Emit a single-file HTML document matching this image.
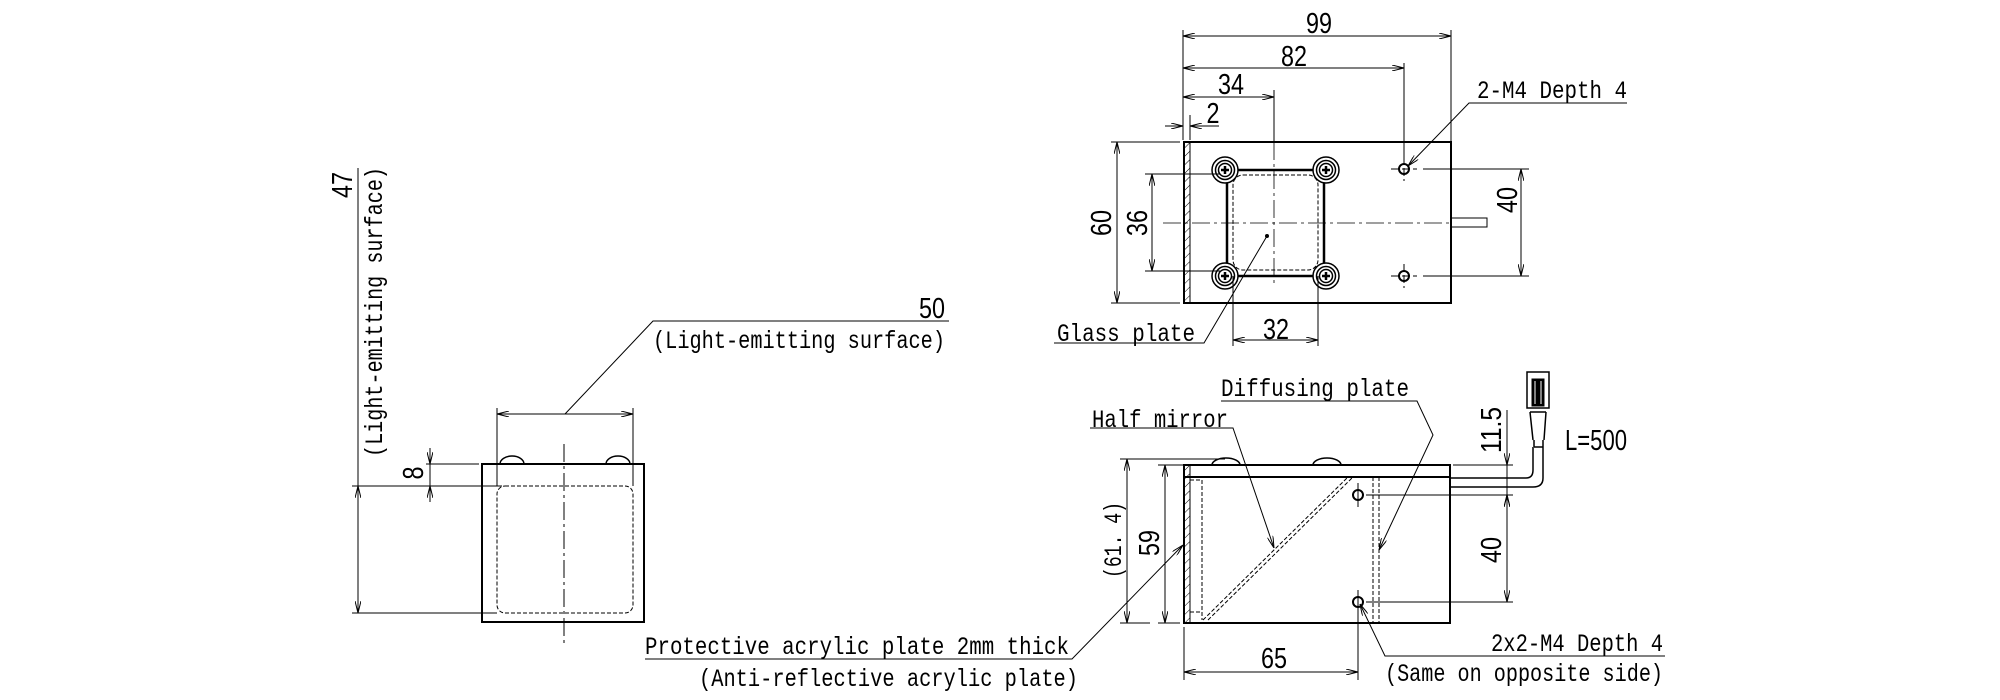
<!DOCTYPE html>
<html><head><meta charset="utf-8"><style>
html,body{margin:0;padding:0;background:#fff;}
svg{display:block;}
text{font-family:"Liberation Mono","DejaVu Sans Mono",monospace;font-size:25px;fill:#000;}
.n{font-family:"Liberation Sans",sans-serif;font-size:29px;}
</style></head><body>
<svg width="2000" height="700" viewBox="0 0 2000 700" xmlns="http://www.w3.org/2000/svg">
<defs>
<marker id="a" viewBox="0 0 12 6" refX="12" refY="3" markerWidth="12" markerHeight="6" markerUnits="userSpaceOnUse" orient="auto-start-reverse">
<path d="M0,0 L12,3 L0,6" fill="none" stroke="#000" stroke-width="1"/>
</marker>
<pattern id="h" width="6" height="6" patternUnits="userSpaceOnUse" patternTransform="rotate(45)">
<line x1="0" y1="0" x2="0" y2="6" stroke="#000" stroke-width="1"/>
</pattern>
</defs>
<g fill="none" stroke="#000" stroke-width="1">

<!-- LEFT VIEW -->
<rect x="482" y="464" width="162" height="158" stroke-width="2"/>
<rect x="497" y="486" width="136" height="127" rx="8" stroke-dasharray="4,2"/>
<path d="M500,464 a12,8 0 0 1 24,0 M606,464 a12,8 0 0 1 24,0" stroke-width="1.5"/>
<line x1="564" y1="444" x2="564" y2="645" stroke-dasharray="18,4,3,4"/>
<line x1="497" y1="408" x2="497" y2="486"/>
<line x1="633" y1="408" x2="633" y2="486"/>
<line x1="497" y1="414" x2="633" y2="414" marker-start="url(#a)" marker-end="url(#a)"/>
<polyline points="565,414 653,321 949,321"/>
<line x1="426" y1="464" x2="479" y2="464"/>
<line x1="352" y1="486" x2="502" y2="486"/>
<line x1="352" y1="613" x2="497" y2="613"/>
<line x1="430" y1="448" x2="430" y2="464" marker-end="url(#a)"/>
<line x1="430" y1="464" x2="430" y2="486"/>
<line x1="430" y1="502" x2="430" y2="486" marker-end="url(#a)"/>
<line x1="358" y1="168" x2="358" y2="486"/>
<line x1="358" y1="486" x2="358" y2="613" marker-start="url(#a)" marker-end="url(#a)"/>

<!-- TOP RIGHT VIEW -->
<rect x="1184" y="142" width="267" height="161" stroke-width="2"/>
<rect x="1184" y="142" width="6" height="161" fill="url(#h)"/>
<line x1="1183" y1="30" x2="1183" y2="140"/>
<line x1="1190" y1="115" x2="1190" y2="140"/>
<line x1="1451" y1="30" x2="1451" y2="142"/>
<line x1="1183" y1="36" x2="1451" y2="36" marker-start="url(#a)" marker-end="url(#a)"/>
<line x1="1404" y1="63" x2="1404" y2="157"/>
<line x1="1183" y1="68" x2="1404" y2="68" marker-start="url(#a)" marker-end="url(#a)"/>
<line x1="1183" y1="97" x2="1274" y2="97" marker-start="url(#a)" marker-end="url(#a)"/>
<line x1="1274" y1="90" x2="1274" y2="142"/>
<line x1="1274" y1="142" x2="1274" y2="287" stroke-dasharray="18,4,3,4" stroke-width="0.8"/>
<line x1="1165" y1="126" x2="1183" y2="126" marker-end="url(#a)"/>
<line x1="1219" y1="126" x2="1190" y2="126" marker-end="url(#a)"/>
<rect x="1227" y="170" width="97" height="106" rx="8" stroke-width="2.5"/>
<rect x="1233" y="175" width="85" height="95" rx="10" stroke-dasharray="4,2"/>
<g stroke-width="1.5">
<circle cx="1225" cy="170" r="13" fill="#fff"/><circle cx="1225" cy="170" r="9.5"/><circle cx="1225" cy="170" r="6.5"/>
<circle cx="1326" cy="170" r="13" fill="#fff"/><circle cx="1326" cy="170" r="9.5"/><circle cx="1326" cy="170" r="6.5"/>
<circle cx="1225" cy="276" r="13" fill="#fff"/><circle cx="1225" cy="276" r="9.5"/><circle cx="1225" cy="276" r="6.5"/>
<circle cx="1326" cy="276" r="13" fill="#fff"/><circle cx="1326" cy="276" r="9.5"/><circle cx="1326" cy="276" r="6.5"/>
</g>
<path d="M1221,170 h8 M1225,166 v8 M1322,170 h8 M1326,166 v8 M1221,276 h8 M1225,272 v8 M1322,276 h8 M1326,272 v8" stroke-width="2.5"/>
<circle cx="1404" cy="169" r="5" stroke-width="2"/>
<circle cx="1404" cy="276" r="5" stroke-width="2"/>
<path d="M1391,169 h26 M1404,157 v24 M1391,276 h26 M1404,264 v24" stroke-dasharray="8,3"/>
<line x1="1423" y1="169" x2="1529" y2="169"/>
<line x1="1423" y1="276" x2="1529" y2="276"/>
<line x1="1521" y1="169" x2="1521" y2="276" marker-start="url(#a)" marker-end="url(#a)"/>
<line x1="1163" y1="223" x2="1450" y2="223" stroke-dasharray="18,4,3,4" stroke-width="0.8"/>
<rect x="1451" y="218" width="36" height="9"/>
<line x1="1111" y1="142" x2="1180" y2="142"/>
<line x1="1111" y1="303" x2="1180" y2="303"/>
<line x1="1117" y1="142" x2="1117" y2="303" marker-start="url(#a)" marker-end="url(#a)"/>
<line x1="1145" y1="174" x2="1220" y2="174"/>
<line x1="1145" y1="271" x2="1220" y2="271"/>
<line x1="1152" y1="174" x2="1152" y2="271" marker-start="url(#a)" marker-end="url(#a)"/>
<line x1="1233" y1="276" x2="1233" y2="346"/>
<line x1="1318" y1="276" x2="1318" y2="346"/>
<line x1="1233" y1="340" x2="1318" y2="340" marker-start="url(#a)" marker-end="url(#a)"/>
<circle cx="1267" cy="236" r="1.5" fill="#000"/>
<polyline points="1267,236 1204,343 1054,343"/>
<polyline points="1627,103 1469,103 1408,166" marker-end="url(#a)"/>

<!-- BOTTOM RIGHT VIEW -->
<rect x="1184" y="465" width="266" height="158" stroke-width="2"/>
<line x1="1184" y1="477" x2="1450" y2="477" stroke-width="2"/>
<rect x="1184" y="465" width="6" height="158" fill="url(#h)"/>
<path d="M1212,465 a14,7 0 0 1 28,0 M1313,465 a14,7 0 0 1 28,0" stroke-width="1.5"/>
<line x1="1202" y1="480" x2="1202" y2="620" stroke-dasharray="4,2"/>
<path d="M1190,480 h12 M1190,612 h12" stroke-dasharray="4,2"/>
<line x1="1373" y1="477" x2="1373" y2="623" stroke-dasharray="4,2"/>
<line x1="1379" y1="477" x2="1379" y2="623" stroke-dasharray="4,2"/>
<line x1="1203" y1="620" x2="1348" y2="477" stroke-dasharray="4,2"/>
<line x1="1208" y1="620" x2="1353" y2="477" stroke-dasharray="4,2"/>
<circle cx="1358" cy="495" r="5" stroke-width="2"/>
<circle cx="1358" cy="602" r="5" stroke-width="2"/>
<path d="M1358,483 v24 M1358,590 v90"/>
<line x1="1366" y1="495" x2="1513" y2="495"/>
<line x1="1366" y1="602" x2="1513" y2="602"/>
<line x1="1453" y1="465" x2="1513" y2="465"/>
<line x1="1507" y1="410" x2="1507" y2="465" marker-end="url(#a)"/>
<line x1="1507" y1="465" x2="1507" y2="495"/>
<line x1="1507" y1="512" x2="1507" y2="495" marker-end="url(#a)"/>
<line x1="1507" y1="495" x2="1507" y2="602" marker-start="url(#a)" marker-end="url(#a)"/>
<path d="M1450,478 H1526 Q1533,478 1533,470 V455 M1450,487 H1533 Q1543,487 1543,478 V455" stroke-width="1.5"/>
<path d="M1533,455 v-8 M1543,455 v-8 M1534,447 h9 M1534,440 v7 M1543,440 v7 M1533,440 L1530,412 M1544,440 L1546,412 M1530,412 h16" stroke-width="1.5"/>
<rect x="1527" y="372" width="22" height="36" stroke-width="1.5"/>
<rect x="1532" y="379" width="12" height="27" fill="#000"/>
<line x1="1535" y1="381" x2="1535" y2="404" stroke="#fff"/>
<line x1="1541" y1="381" x2="1541" y2="404" stroke="#fff"/>
<line x1="1158" y1="465" x2="1184" y2="465"/>
<line x1="1158" y1="623" x2="1180" y2="623"/>
<line x1="1165" y1="465" x2="1165" y2="623" marker-start="url(#a)" marker-end="url(#a)"/>
<line x1="1120" y1="459" x2="1225" y2="459"/>
<line x1="1120" y1="623" x2="1150" y2="623"/>
<line x1="1127" y1="459" x2="1127" y2="623" marker-start="url(#a)" marker-end="url(#a)"/>
<line x1="1184" y1="627" x2="1184" y2="680"/>
<line x1="1184" y1="672" x2="1358" y2="672" marker-start="url(#a)" marker-end="url(#a)"/>
<polyline points="1090,428 1233,428 1274,548" marker-end="url(#a)"/>
<polyline points="1221,401 1417,401 1433,435 1379,550" marker-end="url(#a)"/>
<polyline points="1665,656 1385,656 1360,604" marker-end="url(#a)"/>
<polyline points="645,659 1072,659 1183,545" marker-end="url(#a)"/>
</g>

<g>
<text x="945" y="318" text-anchor="end" class="n" textLength="26" lengthAdjust="spacingAndGlyphs">50</text>
<text x="653" y="348" textLength="292" lengthAdjust="spacingAndGlyphs">(Light-emitting surface)</text>
<text transform="translate(423,473) rotate(-90)" text-anchor="middle" class="n" textLength="13" lengthAdjust="spacingAndGlyphs">8</text>
<text transform="translate(352,185) rotate(-90)" text-anchor="middle" class="n" textLength="26" lengthAdjust="spacingAndGlyphs">47</text>
<text transform="translate(382,457) rotate(-90)" textLength="290" lengthAdjust="spacingAndGlyphs">(Light-emitting surface)</text>

<text x="1319" y="33" text-anchor="middle" class="n" textLength="26" lengthAdjust="spacingAndGlyphs">99</text>
<text x="1294" y="66" text-anchor="middle" class="n" textLength="26" lengthAdjust="spacingAndGlyphs">82</text>
<text x="1231" y="94" text-anchor="middle" class="n" textLength="26" lengthAdjust="spacingAndGlyphs">34</text>
<text x="1213" y="123" text-anchor="middle" class="n" textLength="13" lengthAdjust="spacingAndGlyphs">2</text>
<text x="1477" y="98" textLength="150" lengthAdjust="spacingAndGlyphs">2-M4 Depth 4</text>
<text transform="translate(1111,223) rotate(-90)" text-anchor="middle" class="n" textLength="26" lengthAdjust="spacingAndGlyphs">60</text>
<text transform="translate(1147,223) rotate(-90)" text-anchor="middle" class="n" textLength="26" lengthAdjust="spacingAndGlyphs">36</text>
<text transform="translate(1517,200) rotate(-90)" text-anchor="middle" class="n" textLength="26" lengthAdjust="spacingAndGlyphs">40</text>
<text x="1276" y="339" text-anchor="middle" class="n" textLength="26" lengthAdjust="spacingAndGlyphs">32</text>
<text x="1057" y="341" textLength="138" lengthAdjust="spacingAndGlyphs">Glass plate</text>

<text x="1221" y="396" textLength="188" lengthAdjust="spacingAndGlyphs">Diffusing plate</text>
<text x="1092" y="427" textLength="136" lengthAdjust="spacingAndGlyphs">Half mirror</text>
<text x="1565" y="450" class="n" textLength="62" lengthAdjust="spacingAndGlyphs">L=500</text>
<text transform="translate(1501,430) rotate(-90)" text-anchor="middle" class="n" textLength="46" lengthAdjust="spacingAndGlyphs">11.5</text>
<text transform="translate(1501,550) rotate(-90)" text-anchor="middle" class="n" textLength="26" lengthAdjust="spacingAndGlyphs">40</text>
<text transform="translate(1159,543) rotate(-90)" text-anchor="middle" class="n" textLength="26" lengthAdjust="spacingAndGlyphs">59</text>
<text transform="translate(1121,540) rotate(-90)" text-anchor="middle" textLength="76" lengthAdjust="spacingAndGlyphs">(61. 4)</text>
<text x="1274" y="668" text-anchor="middle" class="n" textLength="26" lengthAdjust="spacingAndGlyphs">65</text>
<text x="1663" y="651" text-anchor="end" textLength="172" lengthAdjust="spacingAndGlyphs">2x2-M4 Depth 4</text>
<text x="1385" y="681" textLength="278" lengthAdjust="spacingAndGlyphs">(Same on opposite side)</text>
<text x="645" y="654" textLength="424" lengthAdjust="spacingAndGlyphs">Protective acrylic plate 2mm thick</text>
<text x="699" y="686" textLength="379" lengthAdjust="spacingAndGlyphs">(Anti-reflective acrylic plate)</text>
</g>
</svg>
</body></html>
